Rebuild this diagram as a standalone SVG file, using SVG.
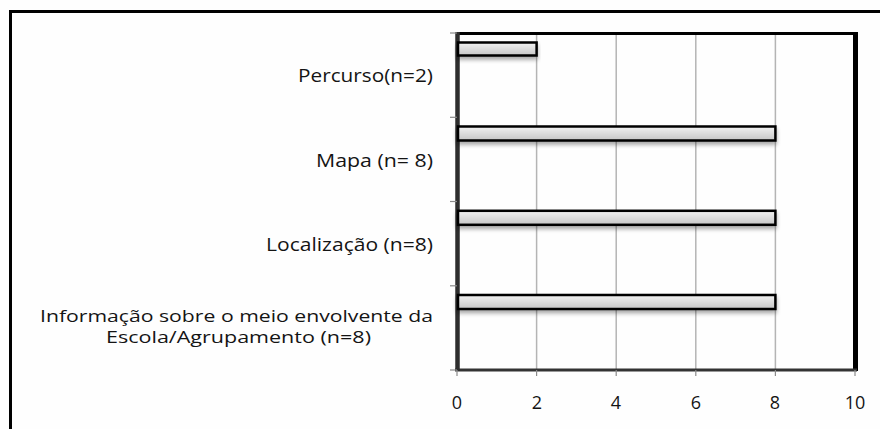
<svg xmlns="http://www.w3.org/2000/svg" width="880" height="429" viewBox="0 0 880 429">
<style>
  .lbl { font-family: "Open Sans", "Noto Sans", "Liberation Sans", sans-serif; font-size: 18px; fill: #141414; }
  .lbl2 { font-size: 17px; }
  .grid { stroke: #b4b4b4; stroke-width: 1.5; }
  .tick { stroke: #8a8a8a; stroke-width: 1.2; }
  .bar { fill: url(#barGrad); stroke: #000; stroke-width: 2.5; filter: url(#shadow); }
</style>
<defs>
  <linearGradient id="barGrad" x1="0" y1="0" x2="0" y2="1">
    <stop offset="0" stop-color="#f2f2f2"/>
    <stop offset="0.5" stop-color="#dcdcdc"/>
    <stop offset="1" stop-color="#c6c6c6"/>
  </linearGradient>
  <filter id="shadow" x="-5%" y="-30%" width="110%" height="190%">
    <feGaussianBlur in="SourceAlpha" stdDeviation="2"/>
    <feOffset dx="0" dy="3" result="b"/>
    <feComponentTransfer><feFuncA type="linear" slope="0.35"/></feComponentTransfer>
    <feMerge><feMergeNode/><feMergeNode in="SourceGraphic"/></feMerge>
  </filter>
</defs>
<rect x="0" y="0" width="880" height="429" fill="#fefefe"/>
<!-- outer frame -->
<g id="frame">
  <line x1="9" y1="11.5" x2="880" y2="11.5" stroke="#000" stroke-width="3"/>
  <line x1="10.5" y1="10" x2="10.5" y2="429" stroke="#000" stroke-width="3"/>
</g>
<!-- gridlines -->
<g id="gridlines">
  <line class="grid" x1="536.6" y1="34" x2="536.6" y2="370"/>
  <line class="grid" x1="616.2" y1="34" x2="616.2" y2="370"/>
  <line class="grid" x1="695.8" y1="34" x2="695.8" y2="370"/>
  <line class="grid" x1="775.4" y1="34" x2="775.4" y2="370"/>
</g>
<!-- plot border -->
<g id="plot-border">
  <line x1="457" y1="33.5" x2="857" y2="33.5" stroke="#000" stroke-width="3"/>
  <line x1="855.5" y1="32" x2="855.5" y2="371" stroke="#000" stroke-width="5"/>
  <line x1="455" y1="370" x2="857" y2="370" stroke="#333" stroke-width="3"/>
  <line x1="457.5" y1="32" x2="457.5" y2="371" stroke="#2e2e2e" stroke-width="4.5"/>
</g>
<!-- axis ticks -->
<g id="ticks">
  <line class="tick" x1="450" y1="33" x2="457" y2="33"/>
  <line class="tick" x1="450" y1="117.3" x2="457" y2="117.3"/>
  <line class="tick" x1="450" y1="201.5" x2="457" y2="201.5"/>
  <line class="tick" x1="450" y1="285.8" x2="457" y2="285.8"/>
  <line class="tick" x1="450" y1="370" x2="457" y2="370"/>
  <line class="tick" x1="457" y1="370" x2="457" y2="376"/>
  <line class="tick" x1="536.6" y1="370" x2="536.6" y2="376"/>
  <line class="tick" x1="616.2" y1="370" x2="616.2" y2="376"/>
  <line class="tick" x1="695.8" y1="370" x2="695.8" y2="376"/>
  <line class="tick" x1="775.4" y1="370" x2="775.4" y2="376"/>
  <line class="tick" x1="855" y1="370" x2="855" y2="376"/>
</g>
<!-- x axis labels -->
<g id="x-labels">
  <text class="lbl" x="457" y="409" text-anchor="middle">0</text>
  <text class="lbl" x="537" y="409" text-anchor="middle">2</text>
  <text class="lbl" x="616" y="409" text-anchor="middle">4</text>
  <text class="lbl" x="696" y="409" text-anchor="middle">6</text>
  <text class="lbl" x="775" y="409" text-anchor="middle">8</text>
  <text class="lbl" x="855" y="409" text-anchor="middle">10</text>
</g>
<!-- categories -->
<g id="cat-percurso">
  <rect class="bar" x="458" y="42.5" width="78.6" height="13"/>
  <text class="lbl" x="433" y="82" text-anchor="end" textLength="135" lengthAdjust="spacingAndGlyphs">Percurso(n=2)</text>
</g>
<g id="cat-mapa">
  <rect class="bar" x="458" y="126.5" width="317.4" height="14"/>
  <text class="lbl" x="433" y="167" text-anchor="end" textLength="117" lengthAdjust="spacingAndGlyphs">Mapa (n= 8)</text>
</g>
<g id="cat-localizacao">
  <rect class="bar" x="458" y="210.8" width="317.4" height="14"/>
  <text class="lbl" x="433" y="251" text-anchor="end" textLength="167" lengthAdjust="spacingAndGlyphs">Localização (n=8)</text>
</g>
<g id="cat-informacao">
  <rect class="bar" x="458" y="295" width="317.4" height="14"/>
  <text class="lbl lbl2" x="236.5" y="322" text-anchor="middle" textLength="393" lengthAdjust="spacingAndGlyphs">Informação sobre o meio envolvente da</text>
  <text class="lbl lbl2" x="238.5" y="343" text-anchor="middle" textLength="265" lengthAdjust="spacingAndGlyphs">Escola/Agrupamento (n=8)</text>
</g>
</svg>
